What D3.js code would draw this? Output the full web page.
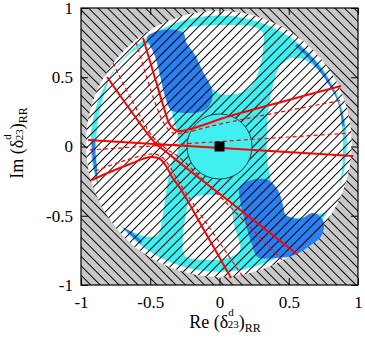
<!DOCTYPE html>
<html>
<head>
<meta charset="utf-8">
<script src="https://cdn.jsdelivr.net/npm/d3@7"></script>
<style>
  body { margin: 0; background: #fff; }
  svg { display: block; }
</style>
</head>
<body>
<svg width="365" height="338"></svg>
<script>
const ticks = [-1, -0.5, 0, 0.5, 1];

// allowed / excluded regions, [Re, Im]
const whiteTop = [[-0.256,0.848],[-0.141,0.870],[0.076,0.877],[0.256,0.863],[0.314,0.819],[0.314,0.697],
  [0.285,0.552],[0.235,0.444],[0.148,0.386],[0.004,0.379],[-0.061,0.430],[-0.119,0.538],[-0.177,0.661],[-0.242,0.755]];
const whiteLeft = [[-0.502,0.733],[-0.466,0.653],[-0.430,0.518],[-0.394,0.365],[-0.350,0.264],[-0.321,0.155],
  [-0.300,0.061],[-0.300,-0.040],[-0.343,-0.112],[-0.372,-0.242],[-0.394,-0.386],[-0.415,-0.531],[-0.444,-0.639],
  [-0.516,-0.653],[-0.610,-0.625],[-0.718,-0.567],[-0.812,-0.458],[-0.870,-0.314],[-0.884,-0.170],[-0.890,0.011],
  [-0.877,0.191],[-0.841,0.350],[-0.790,0.495],[-0.710,0.610],[-0.610,0.697]];
const whiteRight = [[0.444,0.588],[0.523,0.639],[0.617,0.625],[0.711,0.552],[0.790,0.444],[0.855,0.321],
  [0.884,0.155],[0.892,-0.025],[0.880,-0.206],[0.840,-0.365],[0.769,-0.473],[0.675,-0.487],[0.567,-0.516],
  [0.466,-0.487],[0.408,-0.372],[0.365,-0.227],[0.343,-0.061],[0.343,0.119],[0.357,0.300],[0.386,0.444],[0.415,0.538]];
const whiteBottom = [[-0.213,-0.386],[-0.105,-0.350],[0.018,-0.357],[0.076,-0.408],[0.105,-0.567],[0.148,-0.747],
  [0.061,-0.805],[-0.105,-0.819],[-0.249,-0.791],[-0.264,-0.639],[-0.242,-0.495]];
const blueUpper = [[-0.523,0.791],[-0.444,0.834],[-0.314,0.841],[-0.256,0.812],[-0.242,0.755],[-0.177,0.661],
  [-0.119,0.538],[-0.061,0.430],[-0.054,0.336],[-0.105,0.264],[-0.227,0.242],[-0.350,0.264],[-0.394,0.365],
  [-0.430,0.518],[-0.466,0.653],[-0.502,0.733]];
const blueLower = [[0.148,-0.292],[0.235,-0.242],[0.350,-0.242],[0.422,-0.314],[0.458,-0.422],[0.480,-0.495],
  [0.581,-0.523],[0.675,-0.480],[0.747,-0.531],[0.740,-0.639],[0.639,-0.726],[0.523,-0.791],[0.401,-0.805],
  [0.278,-0.800],[0.235,-0.711],[0.191,-0.567],[0.155,-0.422]];
// thin blue arcs in the outer ring, degrees
const blueArcs = [[8, 52], [178, 232]];

// red contours
const solid = [
  [[-0.552,0.783],[-0.466,0.495],[-0.401,0.278],[-0.357,0.155],[-0.307,0.112],[-0.213,0.126],[0.076,0.220],[0.473,0.329],[0.877,0.437]],
  [[-0.812,0.502],[-0.502,0.069],[-0.451,0.011],[-0.394,-0.032],[-0.285,-0.119],[0.560,-0.776]],
  [[-0.949,0.047],[0.964,-0.069]],
  [[-0.921,-0.242],[-0.791,-0.184],[-0.646,-0.126],[-0.502,-0.076],[-0.430,-0.090],[-0.386,-0.141],[-0.343,-0.220],[-0.285,-0.300],[-0.112,-0.603],[0.083,-0.949]]
];
const dashed = [
  [[-0.603,0.755],[-0.531,0.516],[-0.451,0.278],[-0.394,0.155],[-0.336,0.097],[-0.271,0.097],[0.004,0.162],[0.892,0.336]],
  [[-0.769,0.603],[-0.502,0.097],[-0.444,0.032],[-0.372,-0.025],[-0.285,-0.083],[0.451,-0.819]],
  [[-0.935,-0.025],[0.942,0.097]],
  [[-0.899,-0.177],[-0.718,-0.112],[-0.538,-0.061],[-0.466,-0.054],[-0.408,-0.083],[-0.357,-0.148],[-0.307,-0.235],[0.170,-0.942]]
];

const serif = '"Liberation Serif", "Times New Roman", serif';
const svg = d3.select("svg");
const x = d3.scaleLinear().domain([-1, 1]).range([81, 358]);
const y = d3.scaleLinear().domain([-1, 1]).range([285, 8]);
const rpx = r => x(r) - x(0);

const defs = svg.append("defs");
function hatch(id, angle, gap) {
  const p = defs.append("pattern").attr("id", id)
    .attr("patternUnits", "userSpaceOnUse")
    .attr("width", gap).attr("height", gap)
    .attr("patternTransform", `rotate(${angle})`);
  p.append("line").attr("x1", gap / 2).attr("x2", gap / 2).attr("y1", 0).attr("y2", gap)
    .attr("stroke", "#000").attr("stroke-width", 1);
}
hatch("hOut", -45, 6.7);
hatch("hIn", 45, 6.5);

const outer = { cx: -0.005, cy: 0.02, r: 0.96 };
const ring = 0.925;
const inner = 0.235;

// hatch inside the disk but not inside the small circle
const circ = (cx, cy, r) => `M${cx - r},${cy}a${r},${r} 0 1,0 ${2 * r},0a${r},${r} 0 1,0 ${-2 * r},0`;
defs.append("clipPath").attr("id", "clipIn").append("path")
  .attr("clip-rule", "evenodd")
  .attr("d", circ(x(outer.cx), y(outer.cy), rpx(outer.r)) + circ(x(0), y(0), rpx(inner)));

const frame = () => svg.append("rect").attr("x", x(-1)).attr("y", y(1))
  .attr("width", x(1) - x(-1)).attr("height", y(-1) - y(1));

// outside: grey with back-slash hatch
frame().attr("fill", "#c8c8c8");
frame().attr("fill", "url(#hOut)");

svg.append("circle").attr("cx", x(outer.cx)).attr("cy", y(outer.cy)).attr("r", rpx(outer.r)).attr("fill", "#fff");
svg.append("circle").attr("cx", x(outer.cx)).attr("cy", y(outer.cy)).attr("r", rpx(ring)).attr("fill", "#40f0f0");

const arc = d3.arc();
svg.append("g").attr("transform", `translate(${x(outer.cx)},${y(outer.cy)})`)
  .selectAll("path").data(blueArcs).join("path")
  .attr("d", d => arc({ innerRadius: rpx(0.895), outerRadius: rpx(0.918),
    startAngle: (90 - d[1]) * Math.PI / 180, endAngle: (90 - d[0]) * Math.PI / 180 }))
  .attr("fill", "#2a80f0");

const blob = d3.line().x(d => x(d[0])).y(d => y(d[1])).curve(d3.curveCatmullRomClosed.alpha(0.5));
svg.append("g").selectAll("path").data([whiteTop, whiteLeft, whiteRight, whiteBottom]).join("path")
  .attr("d", blob).attr("fill", "#fff");
svg.append("g").selectAll("path").data([blueUpper, blueLower]).join("path")
  .attr("d", blob).attr("fill", "#2a80f0");

frame().attr("fill", "url(#hIn)").attr("clip-path", "url(#clipIn)");

svg.append("circle").attr("cx", x(0)).attr("cy", y(0)).attr("r", rpx(inner))
  .attr("fill", "#40f0f0").attr("stroke", "#1a3a3a").attr("stroke-width", 1);

const curve = d3.line().x(d => x(d[0])).y(d => y(d[1])).curve(d3.curveCatmullRom.alpha(0.5));
svg.append("g").selectAll("path").data(dashed).join("path")
  .attr("d", curve).attr("fill", "none").attr("stroke", "#ff0000")
  .attr("stroke-width", 1.2).attr("stroke-dasharray", "4,3");
svg.append("g").selectAll("path").data(solid).join("path")
  .attr("d", curve).attr("fill", "none").attr("stroke", "#ff0000").attr("stroke-width", 2);

const sq = 0.036;
svg.append("rect").attr("x", x(-sq)).attr("y", y(sq)).attr("width", x(sq) - x(-sq)).attr("height", y(-sq) - y(sq))
  .attr("fill", "#000");

// axes: inward ticks on all sides
const fmt = d => String(d);
const axes = [
  svg.append("g").attr("transform", `translate(0,${y(-1)})`)
    .call(d3.axisBottom(x).tickValues(ticks).tickSize(-7).tickPadding(11).tickFormat(fmt)),
  svg.append("g").attr("transform", `translate(${x(-1)},0)`)
    .call(d3.axisLeft(y).tickValues(ticks).tickSize(-7).tickPadding(8).tickFormat(fmt)),
  svg.append("g").attr("transform", `translate(0,${y(1)})`)
    .call(d3.axisTop(x).tickValues(ticks).tickSize(-7).tickFormat("")),
  svg.append("g").attr("transform", `translate(${x(1)},0)`)
    .call(d3.axisRight(y).tickValues(ticks).tickSize(-7).tickFormat(""))
];
axes.forEach(g => g.attr("font-family", serif).attr("font-size", 17));
svg.selectAll(".domain").remove();
svg.selectAll(".tick line").attr("stroke", "#000");
frame().attr("fill", "none").attr("stroke", "#000").attr("stroke-width", 1.2);

// axis titles with stacked super/subscripts, one text element each
function title(t, head) {
  t.attr("font-family", serif).attr("font-size", 18).attr("text-anchor", "middle").attr("fill", "#000");
  t.append("tspan").text(head + " (δ");
  const sup = t.append("tspan").attr("font-size", 11).attr("dy", -12.5).text("d");
  const dw = sup.node().getComputedTextLength();
  t.append("tspan").attr("font-size", 11).attr("dx", -dw - 0.5).attr("dy", 12.5).text("23");
  t.append("tspan").text(")");
  t.append("tspan").attr("font-size", 12).attr("dy", 4).text("RR");
}
title(svg.append("text").attr("x", 225).attr("y", 328), "Re");
title(svg.append("text").attr("transform", `translate(23,${y(0.025)}) rotate(-90)`), "Im");
</script>
</body>
</html>
